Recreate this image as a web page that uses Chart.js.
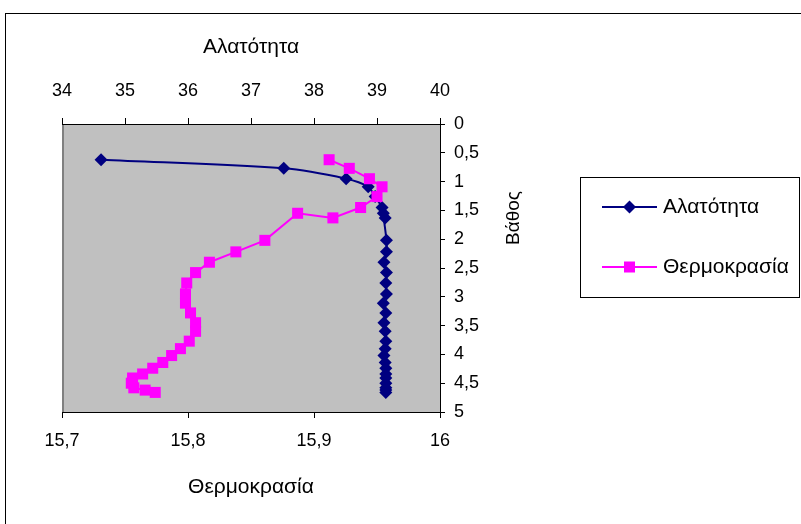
<html lang="el">
<head>
    <meta charset="UTF-8">
    <title>Αλατότητα - Θερμοκρασία - Βάθος</title>
    <script src="https://cdn.jsdelivr.net/npm/chart.js"></script>
    <style>
        body { margin: 0; background: #fff; }
        #wrap { width: 801px; height: 524px; }
    </style>
</head>
<body>
    <div id="wrap"><canvas id="profileChart" width="801" height="524"></canvas></div>

    <script>
        // depth of each sample (m), shared by both series
        const depth = [0.62, 0.77, 0.95, 1.09, 1.26, 1.45, 1.63, 1.55, 2.02, 2.22,
                       2.40, 2.58, 2.76, 2.95, 3.11, 3.28, 3.45, 3.60, 3.77, 3.90,
                       4.02, 4.14, 4.24, 4.34, 4.41, 4.50, 4.58, 4.62, 4.66];
        const salinity = [34.62, 37.52, 38.51, 38.86, 38.97, 39.08, 39.13, 39.10, 39.15, 39.15,
                          39.11, 39.15, 39.14, 39.15, 39.10, 39.14, 39.11, 39.13, 39.14, 39.13,
                          39.11, 39.13, 39.14, 39.14, 39.14, 39.14, 39.14, 39.14, 39.14];
        const temperature = [15.912, 15.928, 15.944, 15.954, 15.950, 15.937, 15.915, 15.887, 15.861, 15.838,
                             15.817, 15.806, 15.799, 15.798, 15.798, 15.802, 15.806, 15.806, 15.801, 15.794,
                             15.787, 15.780, 15.772, 15.764, 15.756, 15.755, 15.757, 15.766, 15.774];
        const seriesNames = ['Αλατότητα', 'Θερμοκρασία'];
        const salinityRange = [34, 40];
        const temperatureRange = [15.7, 16];
        const depthRange = [0, 5];

        const NAVY = '#000080';
        const PINK = '#ff00ff';
        const FONT = 'Liberation Sans, Arial, sans-serif';

        Chart.defaults.font.family = FONT;
        Chart.defaults.font.size = 18;
        Chart.defaults.color = '#000';

        const comma = v => Number(v.toFixed(2)).toString().replace('.', ',');

        function diamond(ctx, x, y, r) {
            ctx.beginPath();
            ctx.moveTo(x, y - r);
            ctx.lineTo(x + r, y);
            ctx.lineTo(x, y + r);
            ctx.lineTo(x - r, y);
            ctx.closePath();
            ctx.fill();
        }

        // grey plot area, outer frame, legend box and the depth title
        const decor = {
            id: 'decor',
            beforeDraw(chart) {
                const { ctx, chartArea: a } = chart;
                ctx.save();
                ctx.fillStyle = '#fff';
                ctx.fillRect(0, 0, chart.width, chart.height);
                ctx.fillStyle = '#c0c0c0';
                ctx.fillRect(a.left, a.top, a.right - a.left, a.bottom - a.top);
                ctx.strokeStyle = '#808080';
                ctx.lineWidth = 2;
                ctx.beginPath();
                ctx.moveTo(a.left + 1, a.top);
                ctx.lineTo(a.left + 1, a.bottom);
                ctx.stroke();
                ctx.strokeStyle = '#000';
                ctx.lineWidth = 1;
                ctx.strokeRect(5.5, 13.5, 900, 600);
                ctx.restore();
            },
            afterDraw(chart) {
                const { ctx } = chart;
                ctx.save();
                ctx.strokeStyle = '#000';
                ctx.lineWidth = 1;
                ctx.strokeRect(580.5, 177.5, 219, 120);

                ctx.font = '21px ' + FONT;
                ctx.textBaseline = 'middle';
                ctx.textAlign = 'left';
                const rows = [207, 267];
                rows.forEach((y, i) => {
                    const col = i === 0 ? NAVY : PINK;
                    ctx.strokeStyle = col;
                    ctx.lineWidth = 2;
                    ctx.beginPath();
                    ctx.moveTo(602, y);
                    ctx.lineTo(657, y);
                    ctx.stroke();
                    ctx.fillStyle = col;
                    if (i === 0) diamond(ctx, 629.5, y, 6.5);
                    else ctx.fillRect(624, y - 5.5, 11, 11);
                    ctx.fillStyle = '#000';
                    ctx.fillText(seriesNames[i], 663, y);
                });

                ctx.font = '19px ' + FONT;
                ctx.translate(514, 218);
                ctx.rotate(-Math.PI / 2);
                ctx.textAlign = 'center';
                ctx.fillText('Βάθος', 0, 0);
                ctx.restore();
            }
        };

        const axisLook = {
            grid: { drawOnChartArea: false, color: '#000', tickLength: 6, tickWidth: 1 },
            border: { color: '#000', width: 1 }
        };

        new Chart(document.getElementById('profileChart'), {
            type: 'scatter',
            data: {
                datasets: [{
                    label: seriesNames[0],
                    data: salinity.map((s, i) => ({ x: s, y: depth[i] })),
                    xAxisID: 'x2',
                    showLine: true,
                    tension: 0.35,
                    borderColor: NAVY,
                    backgroundColor: NAVY,
                    borderWidth: 2,
                    pointStyle: 'rectRot',
                    pointRadius: 6.5,
                    pointBorderWidth: 0,
                    order: 2
                }, {
                    label: seriesNames[1],
                    data: temperature.map((t, i) => ({ x: t, y: depth[i] })),
                    xAxisID: 'x',
                    showLine: true,
                    tension: 0,
                    borderColor: PINK,
                    backgroundColor: PINK,
                    borderWidth: 2,
                    pointStyle: 'rect',
                    pointRadius: 7.8,
                    pointBorderWidth: 0,
                    order: 1
                }]
            },
            options: {
                responsive: false,
                animation: false,
                layout: { padding: { left: 62, right: 0, top: 0, bottom: 0 } },
                plugins: {
                    legend: { display: false },
                    tooltip: { enabled: false }
                },
                scales: {
                    x: {
                        type: 'linear',
                        position: 'bottom',
                        min: temperatureRange[0],
                        max: temperatureRange[1],
                        ticks: { stepSize: 0.1, padding: 12, callback: v => comma(v) },
                        title: { display: true, text: seriesNames[1], font: { size: 21 }, padding: { top: 0, bottom: 24 } },
                        afterFit: s => { s.height = 112; },
                        ...axisLook
                    },
                    x2: {
                        type: 'linear',
                        position: 'top',
                        min: salinityRange[0],
                        max: salinityRange[1],
                        ticks: { stepSize: 1, padding: 16 },
                        title: { display: true, text: seriesNames[0], font: { size: 21 }, padding: { top: 35, bottom: 0 } },
                        afterFit: s => { s.height = 124; },
                        ...axisLook
                    },
                    y: {
                        type: 'linear',
                        position: 'right',
                        reverse: true,
                        min: depthRange[0],
                        max: depthRange[1],
                        ticks: { stepSize: 0.5, padding: 9, callback: v => comma(v) },
                        afterFit: s => { s.width = 361; },
                        ...axisLook,
                        grid: { drawOnChartArea: false, color: '#000', tickLength: 5, tickWidth: 1 }
                    }
                }
            },
            plugins: [decor]
        });
    </script>
</body>
</html>
